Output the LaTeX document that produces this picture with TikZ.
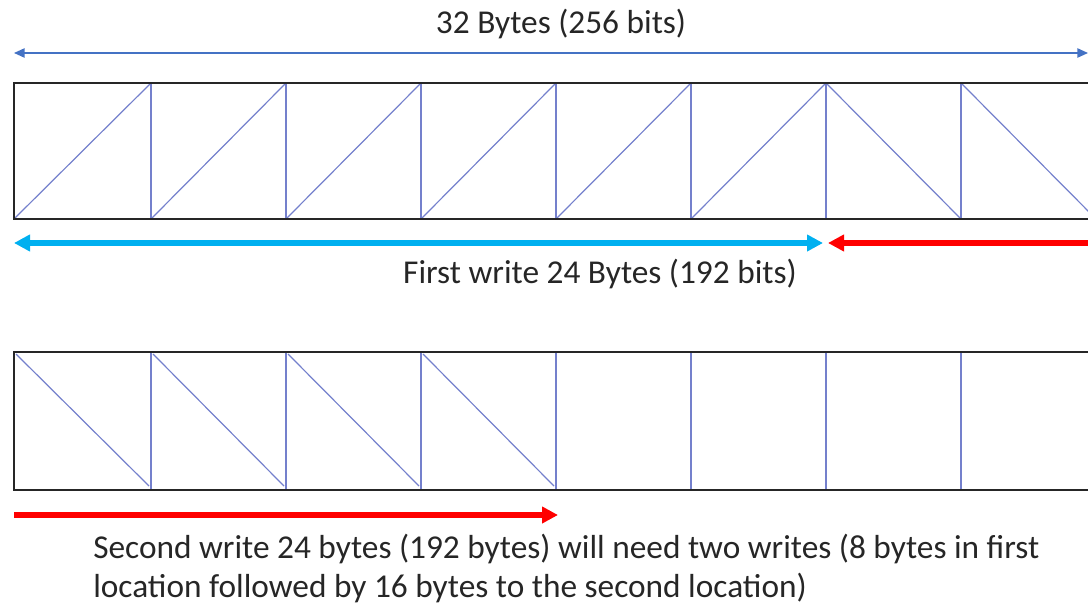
\documentclass[tikz,border=0pt]{standalone}
\usepackage{fontspec}
\setmainfont{Carlito}
\usetikzlibrary{arrows.meta}
\definecolor{sizeblue}{RGB}{68,114,196}
\definecolor{cellblue}{RGB}{116,128,204}
\definecolor{firstcyan}{RGB}{0,176,240}
\definecolor{secondred}{RGB}{255,0,0}

\begin{document}
\begin{tikzpicture}[x=0.75pt,y=-0.75pt,
  every node/.style={font=\fontsize{25}{29.3}\selectfont,text=black!85,inner sep=0pt},
  sizearrow/.style={sizeblue,line width=1.1pt,{Triangle[length=8pt,width=7pt]}-{Triangle[length=8pt,width=7pt]}},
  writearrow/.style={line width=4pt,-{Triangle[length=12pt,width=12pt]}},
  cell/.style={cellblue,line width=0.9pt},
  frame/.style={black!85,line width=1.3pt}]
  \clip (0,0) rectangle (1088,606);
  \useasboundingbox (0,0) rectangle (1088,606);
  \def\xx(#1){(16+135*(#1))}
  % 32-byte line, first write
  \coordinate (sz-l) at (14,53);
  \coordinate (sz-r) at (1088,53);
  \coordinate (fw-l) at (14,243);
  \coordinate (fw-r) at (823,243);
  \coordinate (rest-l) at (828,243);
  \coordinate (rest-r) at (1100,243);
  \node (size) at (561,24) {32 Bytes (256 bits)};
  \draw[sizearrow] (sz-l) -- (sz-r);
  \foreach \i in {1,...,7} \draw[cell] ({\xx(\i)},83) -- ({\xx(\i)},219);
  \draw[cell] (14,219) -- (151,83);
  \foreach \i in {1,...,5} \draw[cell] ({\xx(\i)},219) -- ({\xx(\i+1)},83);
  \foreach \i in {6,7} \draw[cell] ({\xx(\i)},83) -- ({\xx(\i+1)},219);
  \draw[frame] (14,83) rectangle (1100,219);
  \draw[writearrow,firstcyan,{Triangle[length=12pt,width=12pt]}-{Triangle[length=12pt,width=12pt]}] (fw-l) -- (fw-r);
  \draw[writearrow,secondred] (rest-r) -- (rest-l);
  \node (first) at (600,274) {First write 24 Bytes (192 bits)};
  % second write
  \coordinate (sw-l) at (14,515);
  \coordinate (sw-r) at (558,515);
  \foreach \i in {1,...,7} \draw[cell] ({\xx(\i)},352) -- ({\xx(\i)},490);
  \draw[cell] (16,354) -- (149,486);
  \foreach \i in {1,...,3} \draw[cell] ({\xx(\i)+2},354) -- ({\xx(\i+1)-2},486);
  \draw[frame] (14,352) rectangle (1100,490);
  \draw[writearrow,secondred] (sw-l) -- (sw-r);
  \node[anchor=north west,align=left] (second) at (93,534)
    {Second write 24 bytes (192 bytes) will need two writes (8 bytes in first\\
     location followed by 16 bytes to the second location)};
\end{tikzpicture}
\end{document}
